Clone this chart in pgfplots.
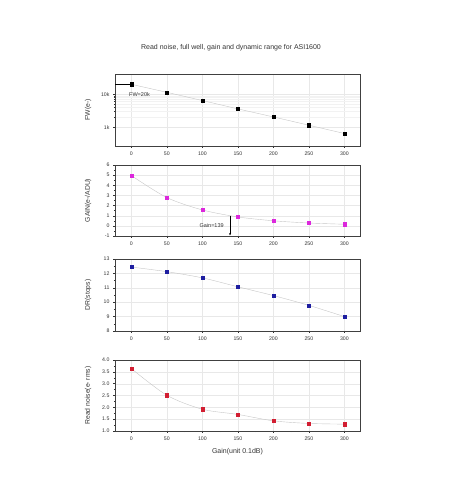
\documentclass[border=0pt]{standalone}
\usepackage{pgfplots}
\pgfplotsset{compat=1.18}
\usepackage{fontspec}
\setmainfont{Liberation Sans}
\usetikzlibrary{arrows.meta}
\begin{document}
\begin{tikzpicture}
\useasboundingbox (0pt,0pt) rectangle (450pt,503pt);
\pgfplotsset{
 panel/.style={scale only axis, width=245pt, height=71pt, anchor=south west,
  xmin=-23, xmax=322, xtick={0,50,...,300}, minor x tick num=1,
  tick align=outside, xtick pos=bottom, ytick pos=left,
  major tick length=2pt, minor tick length=1.2pt,
  grid=major, major grid style={gray!18, very thin},
  tick style={black!80, thin}, axis line style={black!75, thin},
  tick label style={font=\fontsize{5.2}{6}\selectfont, text=black!80},
  /pgf/number format/assume math mode=true,
  every axis y label/.style={at={(axis description cs:0,0.5)}, xshift=-27pt, rotate=90, anchor=center, font=\fontsize{6.8}{7}\selectfont, text=black!80},
  every axis x label/.style={at={(axis description cs:0.5,0)}, yshift=-21pt, anchor=center, font=\fontsize{7}{8}\selectfont, text=black!80},
 },
 curve/.style={gray!45, thin, smooth},
 pts/.style={only marks, mark=square*, mark size=1.6pt},
}
\node[font=\fontsize{7}{8}\selectfont, text=black!80] at (231pt,455pt) {Read noise, full well, gain and dynamic range for ASI1600};

% Panel 1: Full well
\begin{axis}[panel, at={(115pt,357pt)}, height=72pt, ymode=log, ymin=270, ymax=41000,
  ytick={1000,10000}, yticklabels={1k,10k}, minor y tick num=0,
  minor grid style={gray!10, very thin}, yminorgrids=true,
  ylabel={FW(e-)}]
\addplot[curve] coordinates {(0,20000)(50,11400)(100,6430)(150,3600)(200,2050)(250,1150)(300,645)};
\addplot[black, thin] coordinates {(-23,20000)(0,20000)};
\addplot[pts, black] coordinates {(0,20000)(50,11400)(100,6430)(150,3600)(200,2050)(250,1150)(300,645)};
\node[anchor=west, font=\fontsize{5.5}{6}\selectfont, text=black!80] at (axis cs:-8,10000) {FW=20k};
\end{axis}

% Panel 2: Gain
\begin{axis}[panel, at={(115pt,267pt)}, ymin=-1, ymax=6, ytick={-1,0,...,6}, minor y tick num=1,
  ylabel={GAIN(e-/ADU)}]
\addplot[curve] coordinates {(0,4.96)(50,2.79)(100,1.57)(150,0.88)(200,0.50)(250,0.28)(300,0.16)};
\addplot[pts, color={rgb,255:red,220;green,40;blue,220}] coordinates {(0,4.96)(50,2.79)(100,1.57)(150,0.88)(200,0.50)(250,0.28)(300,0.16)};
\addplot[black, thin, -{Stealth[length=2.5pt,width=2pt]}] coordinates {(139,1)(139,-0.95)};
\node[anchor=east, font=\fontsize{5.5}{6}\selectfont, text=black!80] at (axis cs:135,0.05) {Gain=139};
\end{axis}

% Panel 3: Dynamic range
\begin{axis}[panel, at={(115pt,172pt)}, height=72pt, ymin=8, ymax=13, ytick={8,...,13}, minor y tick num=1,
  ylabel={DR(stops)}]
\addplot[curve] coordinates {(0,12.44)(50,12.12)(100,11.69)(150,11.07)(200,10.46)(250,9.78)(300,9.00)};
\addplot[pts, color={rgb,255:red,30;green,30;blue,160}] coordinates {(0,12.44)(50,12.12)(100,11.69)(150,11.07)(200,10.46)(250,9.78)(300,9.00)};
\end{axis}

% Panel 4: Read noise
\begin{axis}[panel, at={(115pt,72pt)}, ymin=1, ymax=4, ytick={1,1.5,...,4}, minor y tick num=1,
  yticklabel style={/pgf/number format/.cd, fixed, fixed zerofill, precision=1},
  ylabel={Read noise(e- rms)}, xlabel={Gain(unit 0.1dB)}]
\addplot[curve] coordinates {(0,3.64)(50,2.51)(100,1.92)(150,1.70)(200,1.43)(250,1.32)(300,1.29)};
\addplot[pts, color={rgb,255:red,210;green,30;blue,50}] coordinates {(0,3.64)(50,2.51)(100,1.92)(150,1.70)(200,1.43)(250,1.32)(300,1.29)};
\end{axis}
\end{tikzpicture}
\end{document}
